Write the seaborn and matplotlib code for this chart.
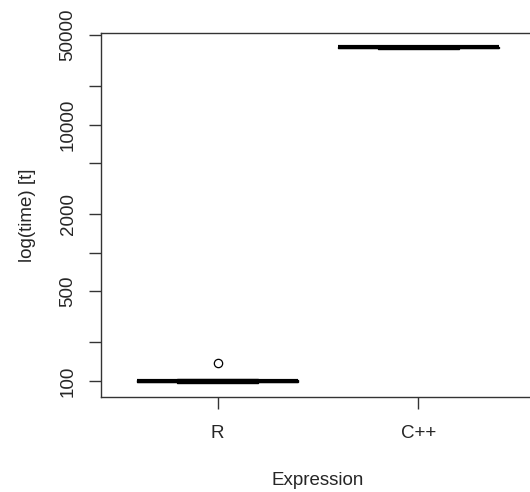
import pandas as pd
import matplotlib
matplotlib.use("Agg")
import matplotlib.pyplot as plt
import matplotlib.ticker as mticker
import seaborn as sns

# Data (timings)
r_times = [96, 97, 98, 99, 100, 100, 101, 102, 103, 139]
cpp_times = [38600, 39200, 39600, 39900, 40100, 40300, 40600, 41000]
expressions = ["R", "C++"]

y_ticks = [100, 200, 500, 1000, 2000, 5000, 10000, 20000, 50000]
y_tick_labels = ["100", "", "500", "", "2000", "", "10000", "", "50000"]

df = pd.DataFrame({
    "Expression": ["R"] * len(r_times) + ["C++"] * len(cpp_times),
    "time": r_times + cpp_times,
})

sns.set_style("white")
plt.rcParams["font.family"] = ["Liberation Sans", "DejaVu Sans"]

fig = plt.figure(figsize=(5.3, 4.92), dpi=100)
ax = fig.add_axes([101 / 530, 95 / 492, 434 / 530, 364 / 492])

sns.boxplot(
    data=df, x="Expression", y="time", order=expressions, ax=ax,
    log_scale=True, width=0.8, color="white", linecolor="black",
    linewidth=1.0, saturation=1,
    medianprops={"linewidth": 3, "color": "black"},
    whiskerprops={"linestyle": "--", "linewidth": 1.0},
    capprops={"linewidth": 1.0}, capwidths=0.4,
    flierprops={"marker": "o", "markerfacecolor": "none",
                "markeredgecolor": "black", "markersize": 6, "markeredgewidth": 0.9},
)

ax.set_xlim(-0.58, 1.58)
ax.set_ylim(75, 51800)
ax.yaxis.set_major_locator(mticker.FixedLocator(y_ticks))
ax.yaxis.set_major_formatter(mticker.FixedFormatter(y_tick_labels))
ax.yaxis.set_minor_locator(mticker.NullLocator())

for s in ax.spines.values():
    s.set_color("#333333")
    s.set_linewidth(1.0)

ax.tick_params(axis="both", length=8.5, width=1.0, color="#333333",
               labelsize=13.5, left=True, bottom=True)
ax.tick_params(axis="x", pad=12)
ax.tick_params(axis="y", pad=9)
for lbl in ax.get_yticklabels():
    lbl.set_rotation(90)
    lbl.set_va("center")

ax.set_xlabel("Expression", fontsize=13.5, labelpad=21)
ax.set_ylabel("log(time) [t]", fontsize=13.5, labelpad=17)

fig.savefig("out.png", dpi=100)
